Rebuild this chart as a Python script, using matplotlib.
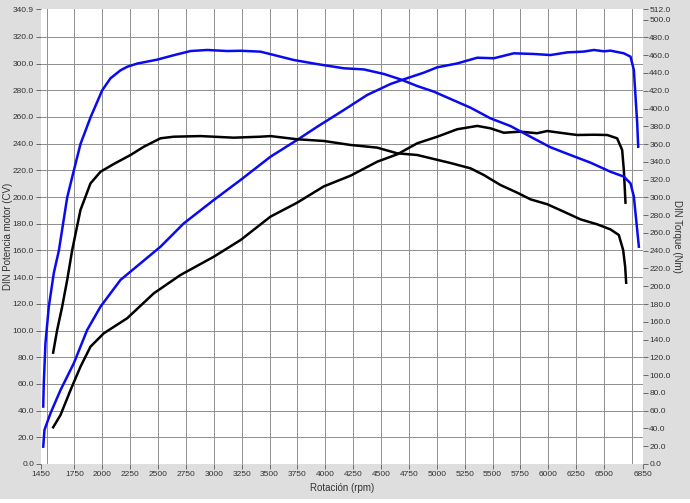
import numpy as np
import matplotlib
matplotlib.use("Agg")
import matplotlib.pyplot as plt
from matplotlib.patches import Rectangle

# -----------------------------
# Data
# -----------------------------
# blue car - power (CV)
blue_pow_rpm = [1470, 1481, 1535, 1625, 1744, 1864, 1984, 2163, 2343, 2522, 2731, 3000,
                3240, 3508, 3748, 3928, 4166, 4376, 4585, 4704, 4884, 5004, 5183, 5363,
                5512, 5691, 5870, 6020, 6170, 6319, 6409, 6499, 6558, 6678, 6738, 6768,
                6783, 6798, 6807]
blue_pow = [13, 25.5, 38, 55.4, 75.4, 100.4, 117.9, 137.9, 150.4, 162.8, 180.3, 197.8,
            212.8, 230.2, 242.8, 252.7, 265.2, 276.5, 284.7, 288.2, 293.2, 297.2, 300.1, 304.4,
            304.0, 307.7, 307.2, 306.4, 308.4, 309.0, 310.2, 309.2, 309.7, 307.7, 305.2, 295.2,
            275.2, 255.3, 237.7]

# blue car - torque (Nm)
blue_tq_rpm = [1470, 1475, 1490, 1520, 1565, 1610, 1685, 1744, 1804, 1894, 1999, 2073,
               2163, 2223, 2313, 2492, 2641, 2791, 2941, 3120, 3240, 3419, 3718, 3928,
               4166, 4346, 4525, 4675, 4825, 4974, 5123, 5302, 5481, 5661, 5840, 6020,
               6199, 6379, 6558, 6678, 6738, 6768, 6792, 6813]
blue_tq = [64.6, 90.7, 136, 177, 215, 240, 300, 330, 360, 390, 420.5, 434,
           443, 447, 450.6, 455, 460, 464.7, 465.9, 464.7, 465, 464, 454.6, 450,
           445.3, 444, 438.9, 432.8, 425.3, 419, 410.8, 401, 389, 380.3, 368.3, 356.4,
           347.7, 339.1, 328.9, 323.4, 315.8, 300.8, 270.8, 244.5]

# black car - power (CV)
black_pow_rpm = [1559, 1625, 1715, 1804, 1894, 2013, 2223, 2462, 2701, 3000, 3240, 3508,
                 3748, 3987, 4226, 4466, 4645, 4825, 5004, 5183, 5363, 5482, 5601, 5751,
                 5900, 5991, 6140, 6260, 6409, 6529, 6618, 6663, 6678, 6693]
black_pow = [27.5, 36.7, 55.4, 72.9, 87.9, 97.9, 109.2, 127.9, 141.6, 155.3, 167.8, 185.3,
             195.8, 208.0, 216.0, 226.5, 232.0, 240.3, 245.2, 250.8, 253.3, 251.5, 248.2, 249.0,
             247.8, 249.5, 247.8, 246.5, 246.7, 246.5, 244.0, 235.3, 220.3, 195.8]

# black car - torque (Nm)
black_tq_rpm = [1559, 1595, 1640, 1685, 1730, 1804, 1894, 1984, 2103, 2253, 2372, 2522,
                2641, 2881, 3179, 3419, 3508, 3748, 3987, 4226, 4466, 4645, 4825, 5123,
                5303, 5422, 5572, 5722, 5841, 5991, 6140, 6289, 6439, 6558, 6633, 6672,
                6690, 6699]
black_tq = [125.3, 150.8, 177.1, 207.1, 240.8, 285.8, 315.8, 328.9, 337.6, 347.7, 357, 366.5,
            368.3, 369, 367.2, 368.3, 369, 365.4, 363.5, 359, 356, 349.6, 347.7, 338.7,
            332.7, 325.2, 313.9, 305.3, 297.8, 292.3, 283.9, 275.3, 269.7, 264, 257.7, 240.8,
            222, 204]

x_ticks = [1450, 1750, 2000, 2250, 2500, 2750, 3000, 3250, 3500, 3750, 4000, 4250,
           4500, 4750, 5000, 5250, 5500, 5750, 6000, 6250, 6500, 6850]
x_grid = np.arange(1500, 6800, 250)
pow_ticks = [0, 20, 40, 60, 80, 100, 120, 140, 160, 180, 200, 220, 240, 260, 280, 300, 320, 340.9]
pow_grid = np.arange(20, 340, 20)
tq_ticks = [0, 20, 40, 60, 80, 100, 120, 140, 160, 180, 200, 220, 240, 260, 280, 300, 320,
            340, 360, 380, 400, 420, 440, 460, 480, 500, 512]

# -----------------------------
# Figure
# -----------------------------
plt.rcParams['font.family'] = ['Liberation Sans', 'DejaVu Sans']

bg = '#dedede'
txt = '#333333'
fig = plt.figure(figsize=(6.9, 5.03), dpi=100, facecolor=bg)
fig.patches.append(Rectangle((0, 0), 1, 4 / 503, transform=fig.transFigure,
                             facecolor='white', edgecolor='none', zorder=0))

ax = fig.add_axes([41 / 690, 1 - 464 / 503, 602 / 690, 455 / 503])
ax.set_facecolor('white')
ax2 = ax.twinx()

ax.set_xlim(1450, 6850)
ax.set_ylim(0, 340.9)
ax2.set_ylim(0, 512)

# grid (minor ticks, keep the ones that overlap the labelled ticks)
ax.xaxis.remove_overlapping_locs = False
ax.yaxis.remove_overlapping_locs = False
ax.set_xticks(x_grid, minor=True)
ax.set_yticks(pow_grid, minor=True)
ax.grid(which='minor', color='#8e8e8e', linewidth=0.7)
ax.grid(which='major', visible=False)
ax.tick_params(which='minor', length=0)
ax.set_axisbelow(True)

for a in (ax, ax2):
    for s in a.spines.values():
        s.set_visible(False)

ax.set_xticks(x_ticks)
ax.set_xticklabels([str(t) for t in x_ticks])
ax.set_yticks(pow_ticks)
ax.set_yticklabels(['%.1f' % t for t in pow_ticks])
ax2.set_yticks(tq_ticks)
ax2.set_yticklabels(['%.1f' % t for t in tq_ticks])

ax.tick_params(axis='both', which='major', length=3.5, width=0.6, color='#555555',
               labelsize=6, labelcolor=txt, pad=1.5)
ax2.tick_params(axis='y', which='major', length=3.5, width=0.6, color='#555555',
                labelsize=6, labelcolor=txt, pad=1)

ax.set_xlabel('Rotación (rpm)', fontsize=7, color=txt, va='center')
ax.xaxis.set_label_coords(0.5, -0.052)
ax.set_ylabel('DIN Potencia motor (CV)', fontsize=7, color=txt, va='center')
ax.yaxis.set_label_coords(-0.055, 0.5)
ax2.set_ylabel('DIN Torque (Nm)', fontsize=7, color=txt, rotation=270, va='center')
ax2.yaxis.set_label_coords(1.057, 0.5)

# curves
lw = 1.8
ax.plot(blue_pow_rpm, blue_pow, color='#0a0af0', linewidth=lw, zorder=3)
ax.plot(black_pow_rpm, black_pow, color='black', linewidth=lw, zorder=3)
ax2.plot(blue_tq_rpm, blue_tq, color='#0a0af0', linewidth=lw, zorder=3)
ax2.plot(black_tq_rpm, black_tq, color='black', linewidth=lw, zorder=3)

plt.savefig("out.png", dpi=100, facecolor=bg)
